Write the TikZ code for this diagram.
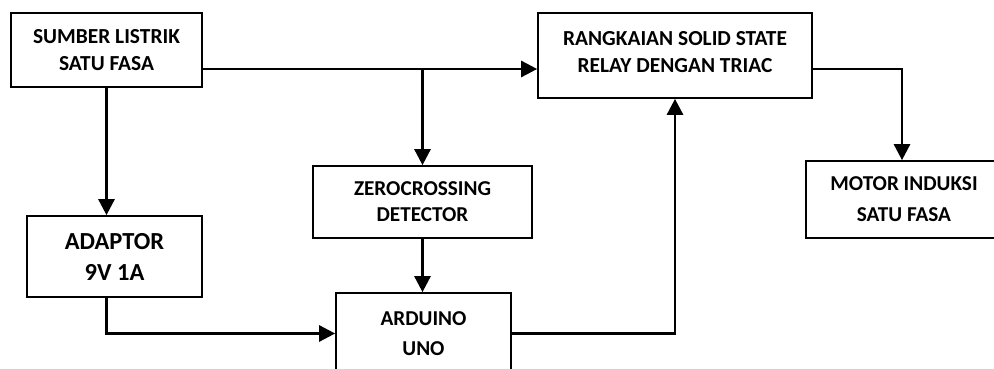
\documentclass[tikz,border=0pt]{standalone}
\usepackage{fontspec}
\setmainfont{Carlito}
\usetikzlibrary{arrows.meta}

\tikzset{
  block/.style={draw=black, line width=1.7pt, rectangle, align=center,
    inner sep=0pt, font=\bfseries\fontsize{21.4}{27}\selectfont},
  link/.style={line width=2.7pt, -{Triangle[length=16pt,width=16pt]}},
}

\begin{document}
\begin{tikzpicture}[x=1pt,y=-1pt]
  \useasboundingbox (0,0) rectangle (994,369);
  \clip (0,0) rectangle (994,369);
  \fill[white] (0,0) rectangle (994,369);

  % blocks
  \node[block, minimum width=191pt, minimum height=74pt] (src) at (106.5,50)
    {SUMBER LISTRIK\\SATU FASA};
  \node[block, minimum width=274pt, minimum height=85pt, text depth=8pt] (ssr) at (675,55.5)
    {RANGKAIAN SOLID STATE\\RELAY DENGAN TRIAC};
  \node[block, minimum width=219pt, minimum height=72pt,
    font=\bfseries\fontsize{21.2}{26}\selectfont] (zcd) at (422.5,202)
    {ZEROCROSSING\\DETECTOR};
  \node[block, minimum width=196pt, minimum height=77pt,
    font=\bfseries\fontsize{21.2}{31}\selectfont] (motor) at (904,199.5)
    {MOTOR INDUKSI\\SATU FASA};
  \node[block, minimum width=175pt, minimum height=81pt,
    font=\bfseries\fontsize{24.5}{31}\selectfont] (adp) at (114.5,256.5)
    {ADAPTOR\\9V 1A};
  \node[block, minimum width=175pt, minimum height=81pt,
    font=\bfseries\fontsize{21.2}{30}\selectfont] (ard) at (423.5,333.5)
    {ARDUINO\\UNO};

  % supply bus from the source to the relay, with a tap to the detector
  \coordinate (tap) at ([yshift=-19pt]src.east);
  \draw[link] (tap) -- (tap -| ssr.west);
  \draw[link] (tap -| zcd.north) -- (zcd.north);

  % source to adaptor
  \draw[link] (src.south) -- (src.south |- adp.north);

  % adaptor to arduino
  \draw[link] (adp.south -| src.south) |- (ard.west);

  % detector to arduino
  \draw[link] (zcd.south) -- (zcd.south |- ard.north);

  % arduino drives the relay
  \draw[link] (ard.east) -| (ssr.south);

  % relay to motor
  \draw[link] (ssr.east |- tap) -| ([xshift=-2pt]motor.north);
\end{tikzpicture}
\end{document}
